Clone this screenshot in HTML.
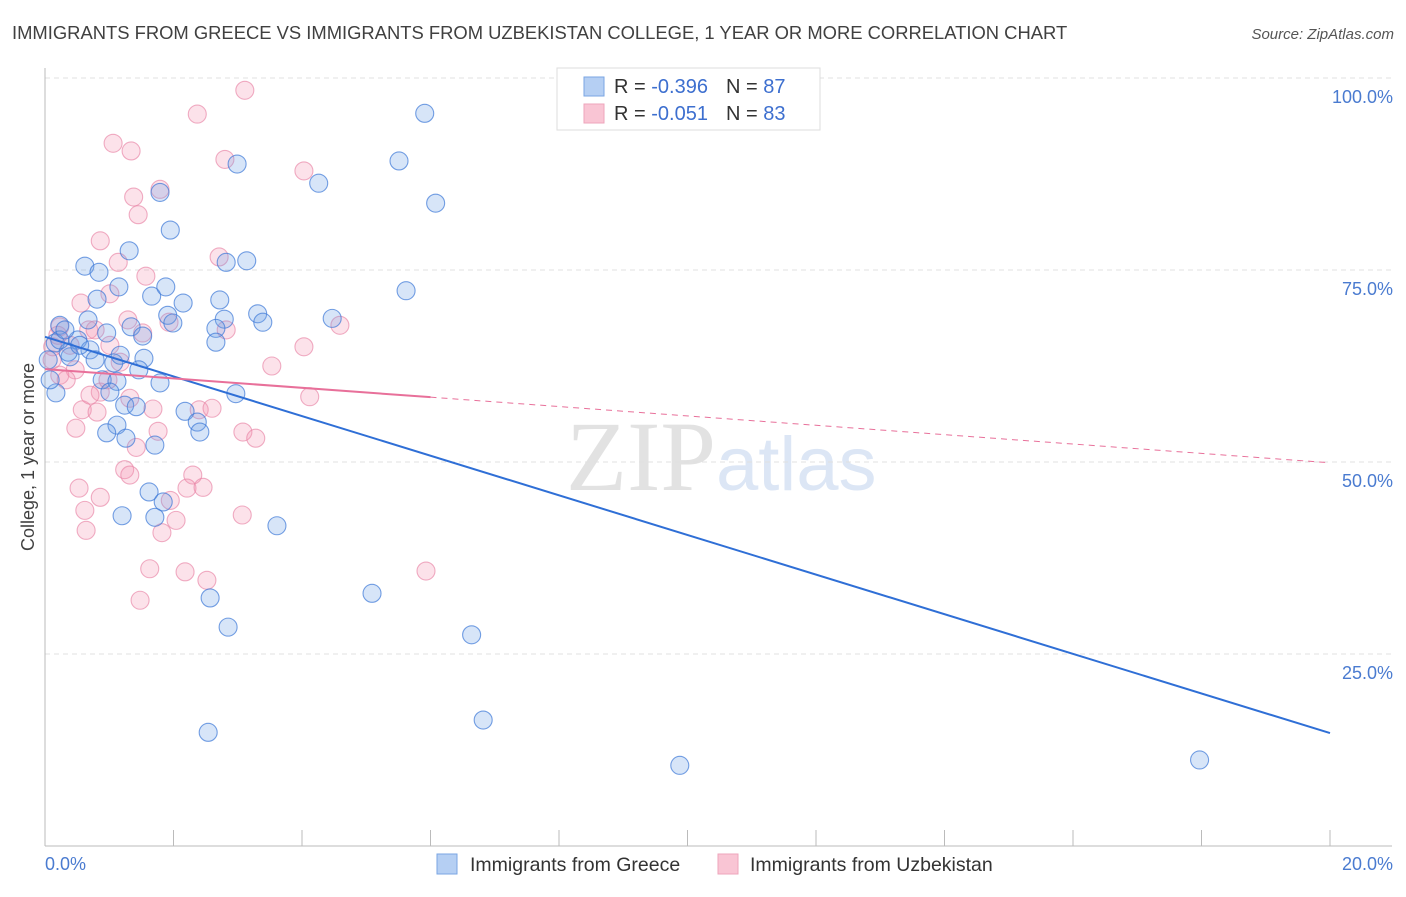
<!DOCTYPE html>
<html><head><meta charset="utf-8"><style>
body{margin:0;background:#fff;font-family:"Liberation Sans",sans-serif}
svg text{font-family:"Liberation Sans",sans-serif}
</style></head><body>
<svg id="chart" width="1406" height="892" viewBox="0 0 1406 892" xmlns="http://www.w3.org/2000/svg">
<text x="12" y="39" font-size="18.4" fill="#404040">IMMIGRANTS FROM GREECE VS IMMIGRANTS FROM UZBEKISTAN COLLEGE, 1 YEAR OR MORE CORRELATION CHART</text>
<text x="1394" y="39" font-size="15" fill="#555" font-style="italic" text-anchor="end">Source: ZipAtlas.com</text>
<text x="716" y="490" font-size="100" text-anchor="end" fill="#e2e2e2" style="font-family:'Liberation Serif',serif">ZIP</text>
<text x="716" y="490" font-size="76" fill="#dce6f5">atlas</text>
<g id="grid"></g>
<g id="axes"></g>
<g id="pts"></g>
<g id="trends"></g>
<text transform="translate(34,457) rotate(-90)" font-size="18" fill="#404040" text-anchor="middle">College, 1 year or more</text>
<text x="45" y="870" font-size="18" fill="#4a7bd0">0.0%</text>
<text x="1393" y="870" font-size="18" fill="#4a7bd0" text-anchor="end">20.0%</text>
<g>
<rect x="557" y="68" width="263" height="62" fill="#fff" stroke="#ddd"/>
<rect x="584" y="77" width="20" height="19" fill="#b5cff3" stroke="#7aa6e3"/>
<rect x="584" y="104" width="20" height="19" fill="#f9c5d4" stroke="#eea5bb"/>
<text x="614" y="93" font-size="20" fill="#333">R = <tspan fill="#3d6fcf">-0.396</tspan><tspan dx="18">N = </tspan><tspan fill="#3d6fcf">87</tspan></text>
<text x="614" y="120" font-size="20" fill="#333">R = <tspan fill="#3d6fcf">-0.051</tspan><tspan dx="18">N = </tspan><tspan fill="#3d6fcf">83</tspan></text>
</g>
<g>
<rect x="437" y="854" width="20" height="20" fill="#b5cff3" stroke="#7aa6e3"/>
<text x="470" y="871" font-size="19.5" fill="#333">Immigrants from Greece</text>
<rect x="718" y="854" width="20" height="20" fill="#f9c5d4" stroke="#eea5bb"/>
<text x="750" y="871" font-size="19.5" fill="#333">Immigrants from Uzbekistan</text>
</g>
</svg>
<script>
const blueX=[5.91,5.51,2.99,4.26,6.08,1.79,1.95,1.31,0.62,0.84,3.14,2.82,5.62,1.15,0.81,1.66,1.88,2.15,2.72,3.31,4.47,3.39,1.91,1.99,2.79,2.66,2.66,0.67,0.23,1.34,1.52,0.96,0.51,0.16,0.39,0.70,1.54,1.07,1.46,0.89,1.79,1.12,1.01,2.97,1.24,1.42,2.18,2.37,2.41,1.12,0.96,1.26,1.71,1.62,1.84,1.71,1.20,3.61,2.57,2.85,5.09,6.64,6.82,2.54,9.88,17.97,0.17,0.08,0.05,0.36,0.23,0.31,0.54,0.78,1.17];
const blueY=[95.4,89.2,88.8,86.3,83.7,85.1,80.2,77.5,75.5,74.7,76.2,76.0,72.3,72.8,71.2,71.6,72.8,70.7,71.1,69.3,68.7,68.2,69.1,68.1,68.6,67.4,65.6,68.5,67.8,67.6,66.4,66.8,65.9,65.5,63.7,64.6,63.5,62.9,62.0,60.7,60.3,60.5,59.1,58.9,57.4,57.2,56.6,55.2,53.9,54.8,53.8,53.1,52.2,46.1,44.8,42.8,43.0,41.7,32.3,28.5,32.9,27.5,16.4,14.8,10.5,11.2,59.0,60.7,63.3,64.3,65.9,67.2,65.2,63.3,63.9];
const pinkX=[3.11,2.37,1.06,1.34,2.80,4.03,1.79,1.38,1.45,0.86,2.71,1.14,1.57,0.56,1.01,1.29,1.93,1.52,4.59,3.53,4.03,2.82,0.68,0.23,0.12,1.01,1.17,0.47,0.23,0.86,1.32,0.58,0.81,1.68,2.40,2.60,4.12,0.48,1.76,3.08,3.28,1.42,1.24,1.32,2.30,0.53,0.86,2.21,2.46,1.95,0.62,0.64,2.04,1.82,3.07,1.63,2.18,2.52,1.48,5.93,0.20,0.11,0.33,0.70,0.39,0.98,0.78];
const pinkY=[98.4,95.3,91.5,90.5,89.4,87.9,85.5,84.5,82.2,78.8,76.7,76.0,74.2,70.7,71.9,68.5,68.2,66.8,67.8,62.5,65.0,67.2,67.2,67.6,65.0,65.2,63.0,62.0,61.3,59.1,58.3,56.8,56.5,56.9,56.8,57.0,58.5,54.4,54.0,53.9,53.1,51.9,49.0,48.3,48.3,46.6,45.4,46.6,46.7,45.0,43.7,41.1,42.4,40.8,43.1,36.1,35.7,34.6,32.0,35.8,66.5,63.3,60.7,58.7,65.2,60.7,67.2];
const blueTrend=[66.3,14.7];
const pinkTrend=[62.1,49.9];
const pinkSolidEnd=6.0;
const yTicks=[25,50,75,100];
const yTickLabels=["25.0%","50.0%","75.0%","100.0%"];
const xTicks=[0,2,4,6,8,10,12,14,16,18,20];
const X0=45,X1=1330,Y0=846,Y100=78;
const sx=v=>X0+(v/20)*(X1-X0);
const sy=v=>Y0-(v/100)*(Y0-Y100);
const NS="http://www.w3.org/2000/svg";
function mk(tag,attrs,parent){const e=document.createElementNS(NS,tag);for(const k in attrs)e.setAttribute(k,attrs[k]);document.getElementById(parent).appendChild(e);return e;}
yTicks.forEach((t,i)=>{
 const g=mk('line',{x1:X0,x2:1392,y1:sy(t),y2:sy(t),stroke:'#e0e0e0','stroke-dasharray':'5,4'},'grid');
 
 
 const l=mk('text',{x:1393,y:sy(t)+25,'font-size':18,fill:'#4a7bd0','text-anchor':'end'},'grid');
 l.textContent=yTickLabels[i];
 
 
});
const ax=mk('line',{x1:X0,x2:X0,y1:68,y2:Y0,stroke:'#bbb'},'axes');


const bx=mk('line',{x1:X0,x2:1392,y1:Y0,y2:Y0,stroke:'#bbb'},'axes');


xTicks.forEach(t=>{
 const k=mk('line',{x1:sx(t),x2:sx(t),y1:Y0,y2:Y0-16,stroke:'#bbb'},'axes');
 
 
});
function pts(xs,ys,fill,stroke,name){xs.forEach((x,i)=>{
 const c=mk('circle',{cx:sx(x),cy:sy(ys[i]),r:9,fill:fill,stroke:stroke,'stroke-width':1.1},'pts');
 
 
});}
pts(pinkX,pinkY,'rgba(243,150,180,0.28)','rgba(232,130,165,0.65)','uzbekistan-point');
pts(blueX,blueY,'rgba(110,160,230,0.28)','rgba(60,120,215,0.7)','greece-point');
const bt=mk('line',{x1:sx(0),y1:sy(blueTrend[0]),x2:sx(20),y2:sy(blueTrend[1]),stroke:'#2f6fd6','stroke-width':2},'trends');


const pm=pinkTrend[0]+(pinkTrend[1]-pinkTrend[0])*pinkSolidEnd/20;
const pt=mk('line',{x1:sx(0),y1:sy(pinkTrend[0]),x2:sx(pinkSolidEnd),y2:sy(pm),stroke:'#e8709a','stroke-width':2},'trends');


const pd=mk('line',{x1:sx(pinkSolidEnd),y1:sy(pm),x2:sx(20),y2:sy(pinkTrend[1]),stroke:'#e8709a','stroke-width':1,'stroke-dasharray':'6,5'},'trends');


</script>
</body></html>
